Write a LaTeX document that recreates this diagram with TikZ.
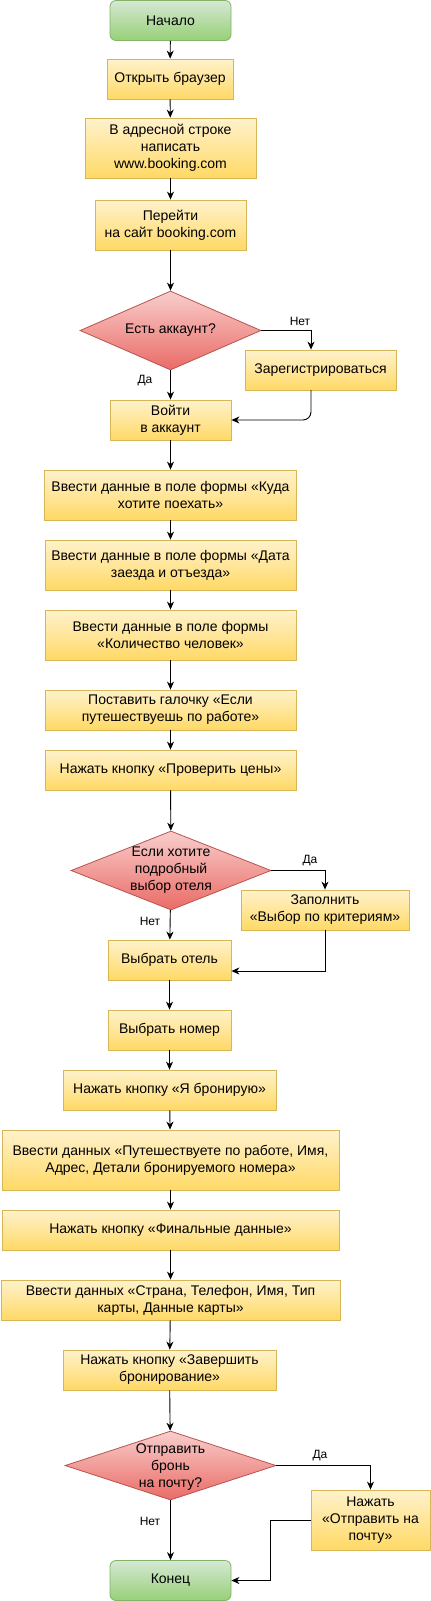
\documentclass[tikz,border=0pt]{standalone}
\usepackage{fontspec}
\setmainfont{Liberation Sans}
\usetikzlibrary{shapes.geometric,arrows.meta}
\definecolor{ytop}{HTML}{FFF2CC}
\definecolor{ybot}{HTML}{FFD966}
\definecolor{yline}{HTML}{D6B656}
\definecolor{gtop}{HTML}{D5E8D4}
\definecolor{gbot}{HTML}{97D077}
\definecolor{gline}{HTML}{82B366}
\definecolor{rtop}{HTML}{F8CECC}
\definecolor{rbot}{HTML}{EA6B66}
\definecolor{rline}{HTML}{B85450}
\tikzset{
  proc/.style={draw=yline, top color=ytop, bottom color=ybot, rectangle, inner sep=0pt, align=center,
    font=\fontsize{14}{17}\selectfont, line width=0.8pt},
  term/.style={draw=gline, top color=gtop, bottom color=gbot, rectangle, rounded corners=6pt, inner sep=0pt,
    align=center, font=\fontsize{14}{17}\selectfont, line width=0.8pt},
  dec/.style={draw=rline, top color=rtop, bottom color=rbot, diamond, inner sep=0pt, line width=0.8pt},
  dectext/.style={align=center, inner sep=0pt, font=\fontsize{14}{17}\selectfont},
  conn/.style={draw=black, line width=0.9pt, -{Stealth[length=8pt,width=7pt,inset=2.5pt]}},
  lbl/.style={font=\fontsize{12}{14}\selectfont, inner sep=0pt}
}
\begin{document}
\begin{tikzpicture}[x=1pt,y=-1pt]
\useasboundingbox (0,0) rectangle (431,1601);
\node[term, minimum width=121pt, minimum height=40pt] (start) at (170.5,20.5) {Начало};
\node[proc, minimum width=126pt, minimum height=40pt] (open) at (170,79) {Открыть браузер};
\node[proc, minimum width=171pt, minimum height=60pt] (addr) at (170.5,148) {В адресной строке\\написать\\www.booking.com};
\node[proc, minimum width=151pt, minimum height=50pt] (go) at (170.5,225) {Перейти\\на сайт booking.com};
\node[dec, minimum width=181pt, minimum height=79pt] (d1) at (170.5,330.5) {};
\node[dectext] (t1) at (d1) {Есть аккаунт?};
\node[proc, minimum width=151pt, minimum height=40pt] (reg) at (320.5,370) {Зарегистрироваться};
\node[proc, minimum width=121pt, minimum height=40pt] (login) at (170.5,420) {Войти\\в аккаунт};
\node[proc, minimum width=252pt, minimum height=50pt] (kuda) at (170.5,495) {Ввести данные в поле формы «Куда\\хотите поехать»};
\node[proc, minimum width=251pt, minimum height=50pt] (data) at (170.5,565) {Ввести данные в поле формы «Дата\\заезда и отъезда»};
\node[proc, minimum width=251pt, minimum height=50pt] (kol) at (170.5,635) {Ввести данные в поле формы\\«Количество человек»};
\node[proc, minimum width=251pt, minimum height=40pt] (post) at (170.5,710) {Поставить галочку «Если\\путешествуешь по работе»};
\node[proc, minimum width=251pt, minimum height=40pt] (prov) at (170.5,770) {Нажать кнопку «Проверить цены»};
\node[dec, minimum width=200pt, minimum height=79pt] (d2) at (171,870.5) {};
\node[dectext] (t2) at (d2) {Если хотите\\подробный\\выбор отеля};
\node[proc, minimum width=168pt, minimum height=40pt] (zap) at (325,910) {Заполнить\\«Выбор по критериям»};
\node[proc, minimum width=123pt, minimum height=40pt] (hotel) at (169.5,960) {Выбрать отель};
\node[proc, minimum width=123pt, minimum height=40pt] (nomer) at (169.5,1030) {Выбрать номер};
\node[proc, minimum width=213pt, minimum height=40pt] (bron) at (169.5,1090) {Нажать кнопку «Я бронирую»};
\node[proc, minimum width=337pt, minimum height=60pt] (put) at (170.5,1160) {Ввести данных «Путешествуете по работе, Имя,\\Адрес, Детали бронируемого номера»};
\node[proc, minimum width=337pt, minimum height=40pt] (fin) at (170.5,1230) {Нажать кнопку «Финальные данные»};
\node[proc, minimum width=339pt, minimum height=40pt] (strana) at (170.5,1300) {Ввести данных «Страна, Телефон, Имя, Тип\\карты, Данные карты»};
\node[proc, minimum width=213pt, minimum height=40pt] (zav) at (169.5,1370) {Нажать кнопку «Завершить\\бронирование»};
\node[dec, minimum width=211pt, minimum height=69pt] (d3) at (170.5,1465.5) {};
\node[dectext] (t3) at ([yshift=-2pt]d3) {Отправить\\бронь\\на почту?};
\node[proc, minimum width=119pt, minimum height=60pt] (mail) at (370.5,1520) {Нажать\\«Отправить на\\почту»};
\node[term, minimum width=121pt, minimum height=40pt] (end) at (170.5,1580.5) {Конец};

\coordinate (c1) at (311,330.5);
\coordinate (c2) at (311,390);
\coordinate (c5) at (270,1520);

\draw[conn] (start) -- (open);
\draw[conn] (open) -- (addr);
\draw[conn] (addr) -- (go);
\draw[conn] (go) -- (d1);
\draw[conn] (d1.east) -- (c1) -- (c1 |- reg.north);
\draw[conn] (d1) -- (login);
\draw[conn, rounded corners=8pt] (c2) |- (login.east);
\draw[conn] (login) -- (kuda);
\draw[conn] (kuda) -- (data);
\draw[conn] (data) -- (kol);
\draw[conn] (kol) -- (post);
\draw[conn] (post) -- (prov);
\draw[conn] (prov) -- (d2);
\draw[conn] (d2.east) -| (zap.north);
\draw[conn] (d2) -- (hotel);
\draw[conn] (zap.south) |- ([yshift=-11pt]hotel.east);
\draw[conn] (hotel) -- (nomer);
\draw[conn] (nomer) -- (bron);
\draw[conn] (bron) -- (put);
\draw[conn] (put) -- (fin);
\draw[conn] (fin) -- (strana);
\draw[conn] (strana) -- (zav);
\draw[conn] (zav) -- (d3);
\draw[conn] (d3.east) -| (mail.north);
\draw[conn] (d3) -- (end);
\draw[conn] (mail.west) -- (c5) |- (end.east);

\node[lbl] (l1) at (300,321) {Нет};
\node[lbl] (l2) at (145,381) {Да};
\node[lbl] (l3) at (310,861) {Да};
\node[lbl] (l4) at (150,921) {Нет};
\node[lbl] (l5) at (320,1456) {Да};
\node[lbl] (l6) at (150,1521) {Нет};
\end{tikzpicture}
\end{document}
